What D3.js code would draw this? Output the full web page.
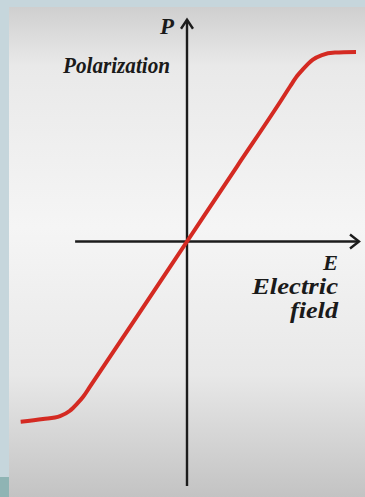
<!DOCTYPE html>
<html>
<head>
<meta charset="utf-8">
<script src="https://cdn.jsdelivr.net/npm/d3@7"></script>
<style>
  html, body { margin: 0; padding: 0; background: #c6d6dc; }
  svg { display: block; }
</style>
</head>
<body>
<div id="chart"></div>
<script>
// data: polarization P vs electric field E (saturating curve)
const fieldE = [-0.996, -0.862, -0.760, -0.701, -0.660, -0.623, -0.581, -0.3, 0, 0.3, 0.569, 0.617, 0.659, 0.695, 0.754, 0.808, 0.886, 1.012];
const polarP = [-0.951, -0.937, -0.921, -0.893, -0.858, -0.821, -0.766, -0.397, 0, 0.397, 0.752, 0.818, 0.873, 0.910, 0.960, 0.984, 0.997, 1.0];
const axisLabels = { y: "P", yName: "Polarization", x: "E", xName: ["Electric", "field"] };

const W = 365, H = 497;

const svg = d3.select("#chart")
  .append("svg")
  .attr("width", W)
  .attr("height", H);

// background: panel with soft vertical gradient
const defs = svg.append("defs");
const grad = defs.append("linearGradient")
  .attr("id", "panel")
  .attr("x1", 0).attr("y1", 0).attr("x2", 0).attr("y2", 1);
grad.append("stop").attr("offset", "0%").attr("stop-color", "#cfcfcf");
grad.append("stop").attr("offset", "12%").attr("stop-color", "#e9e9e9");
grad.append("stop").attr("offset", "45%").attr("stop-color", "#f5f5f5");
grad.append("stop").attr("offset", "75%").attr("stop-color", "#e8e8e8");
grad.append("stop").attr("offset", "100%").attr("stop-color", "#c3c3c3");

svg.append("rect").attr("width", W).attr("height", H).attr("fill", "#c6d6dc");
svg.append("rect").attr("x", 0).attr("y", 477).attr("width", 9).attr("height", 20).attr("fill", "#8fb4b4");
svg.append("rect").attr("x", 9).attr("y", 7).attr("width", W - 9).attr("height", H - 7).attr("fill", "url(#panel)");

// scales
const x = d3.scaleLinear().domain([-1, 1]).range([20, 354]);
const y = d3.scaleLinear().domain([-1, 1]).range([431, 52]);

const x0 = x(0), y0 = y(0);
const axisColor = "#1c1c1c";

// axes
const axes = svg.append("g")
  .attr("stroke", axisColor)
  .attr("stroke-width", 2.4)
  .attr("fill", "none");

axes.append("line")
  .attr("x1", x(-0.67)).attr("x2", x(1.03))
  .attr("y1", y0).attr("y2", y0);
axes.append("path")
  .attr("d", `M${x(1.03) - 9},${y0 - 7} L${x(1.03)},${y0} L${x(1.03) - 9},${y0 + 7}`);

axes.append("line")
  .attr("x1", x0).attr("x2", x0)
  .attr("y1", y(1.17)).attr("y2", y(-1.29));
axes.append("path")
  .attr("d", `M${x0 - 6},${y(1.17) + 9} L${x0},${y(1.17)} L${x0 + 6},${y(1.17) + 9}`);

// curve
const pts = fieldE.map((e, i) => [e, polarP[i]]);
const line = d3.line()
  .x(d => x(d[0]))
  .y(d => y(d[1]))
  .curve(d3.curveMonotoneX);

svg.append("path")
  .datum(pts)
  .attr("d", line)
  .attr("fill", "none")
  .attr("stroke", "#d42a22")
  .attr("stroke-width", 4);

// labels
const font = "'Liberation Serif', 'DejaVu Serif', serif";
const label = (tx, ty, s, size, len) => svg.append("text")
  .attr("x", tx - len).attr("y", ty)
  .attr("font-family", font)
  .attr("font-style", "italic")
  .attr("font-weight", "bold")
  .attr("font-size", size)
  .attr("textLength", len)
  .attr("lengthAdjust", "spacingAndGlyphs")
  .attr("fill", "#1a1a1a")
  .text(s);

label(174, 34, axisLabels.y, 24, 14);
label(170, 73, axisLabels.yName, 24, 107);
label(338, 270, axisLabels.x, 22, 15);
label(338, 294, axisLabels.xName[0], 23, 86);
label(338, 318, axisLabels.xName[1], 23, 48);
</script>
</body>
</html>
